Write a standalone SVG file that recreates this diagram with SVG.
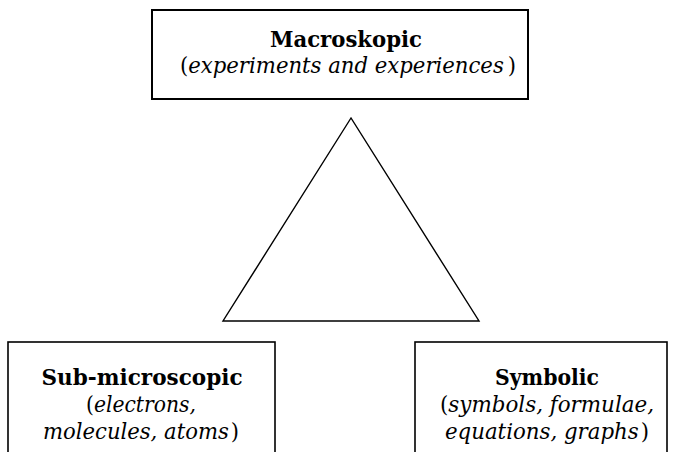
<svg xmlns="http://www.w3.org/2000/svg" width="673" height="452" viewBox="0 0 673 452">
<style>
.box{fill:#fff;stroke:#000;stroke-width:1.6}
.tri{fill:none;stroke:#000;stroke-width:1.4;stroke-linejoin:miter}
text{font-family:"DejaVu Serif","Liberation Serif",serif;font-size:21.5px;fill:#000;text-anchor:middle}
.b{font-weight:bold}
.i{font-style:italic}
</style>
<rect width="673" height="452" fill="#fff"/>
<g id="connectors">
<polygon class="tri" points="351,118 223,321 479,321"/>
</g>
<g id="macroskopic">
<rect class="box" x="152" y="10" width="376" height="89" style="stroke-width:2"/>
<text x="346" y="47" class="b" textLength="152" lengthAdjust="spacingAndGlyphs">Macroskopic</text>
<text x="348" y="73" textLength="336" lengthAdjust="spacingAndGlyphs">(<tspan class="i">experiments and experiences</tspan><tspan dx="4">)</tspan></text>
</g>
<g id="sub-microscopic">
<rect class="box" x="8" y="342" width="267" height="120"/>
<text x="142" y="385" class="b" textLength="201" lengthAdjust="spacingAndGlyphs">Sub-microscopic</text>
<text x="141" y="412" textLength="110" lengthAdjust="spacingAndGlyphs">(<tspan class="i">electrons,</tspan></text>
<text x="141" y="439" textLength="196" lengthAdjust="spacingAndGlyphs"><tspan class="i">molecules, atoms</tspan><tspan dx="2">)</tspan></text>
</g>
<g id="symbolic">
<rect class="box" x="415" y="342" width="252" height="120"/>
<text x="547" y="385" class="b" textLength="104" lengthAdjust="spacingAndGlyphs">Symbolic</text>
<text x="547" y="412" textLength="214" lengthAdjust="spacingAndGlyphs">(<tspan class="i">symbols, formulae,</tspan></text>
<text x="547" y="439" textLength="204" lengthAdjust="spacingAndGlyphs"><tspan class="i">equations, graphs</tspan><tspan dx="2">)</tspan></text>
</g>
</svg>
